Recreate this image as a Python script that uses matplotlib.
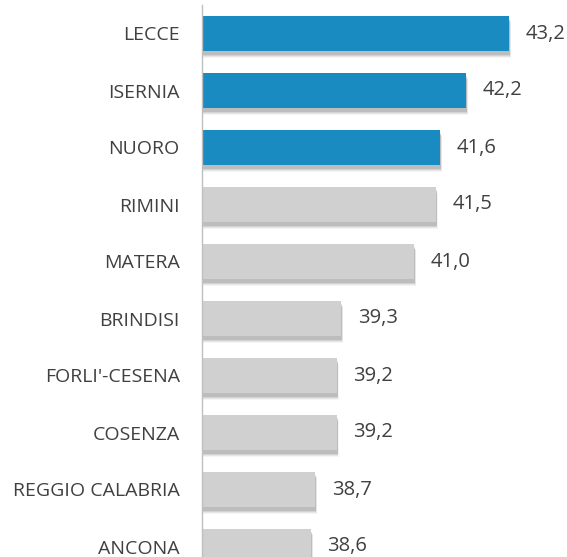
import matplotlib
matplotlib.use("Agg")
import matplotlib.pyplot as plt

categories = ["LECCE", "ISERNIA", "NUORO", "RIMINI", "MATERA", "BRINDISI",
              "FORLI'-CESENA", "COSENZA", "REGGIO CALABRIA", "ANCONA"]
values = [43.2, 42.2, 41.6, 41.5, 41.0, 39.3, 39.2, 39.2, 38.7, 38.6]
highlight = [True, True, True, False, False, False, False, False, False, False]

BLUE = "#1A8BC0"
GRAY = "#D0D0D0"
TEXT = "#404040"

plt.rcParams['font.family'] = ['Open Sans', 'DejaVu Sans']

W, H = 567, 557
fig = plt.figure(figsize=(W / 100, H / 100), dpi=100)
left_px, top_px = 202, 5
span = 57 * len(categories)
ax = fig.add_axes([left_px / W, (H - top_px - span) / H, (W - left_px) / W, span / H])

y = list(range(len(categories)))
colors = [BLUE if h else GRAY for h in highlight]
xmin = 36.07
bh = 0.63

# soft shadow
for dy, dx, a in [(0.12, 0.05, 0.04), (0.10, 0.04, 0.06), (0.08, 0.03, 0.08), (0.06, 0.02, 0.10)]:
    ax.barh([v + dy for v in y], [v - xmin + dx for v in values], left=xmin, height=bh,
            color="black", alpha=a, linewidth=0, zorder=1)
ax.barh(y, [v - xmin for v in values], left=xmin, height=bh, color=colors,
        linewidth=0, zorder=2)

for yi, v in zip(y, values):
    ax.annotate(f"{v:.1f}".replace(".", ","), xy=(v, yi), xytext=(12, 0),
                textcoords="offset points", ha="left", va="center",
                fontsize=14.5, color=TEXT)

ax.set_xlim(xmin, xmin + (W - left_px) / 43.04)
ax.set_ylim(len(categories) - 0.5, -0.5)
ax.set_yticks(y)
ax.set_yticklabels(categories, fontsize=14, color=TEXT)
ax.tick_params(axis="y", length=0, pad=16)
ax.set_xticks([])
for s in ["top", "right", "bottom"]:
    ax.spines[s].set_visible(False)
ax.spines["left"].set_color("#BFBFBF")
ax.spines["left"].set_linewidth(1)
ax.patch.set_alpha(0)

fig.savefig("out.png", dpi=100)
